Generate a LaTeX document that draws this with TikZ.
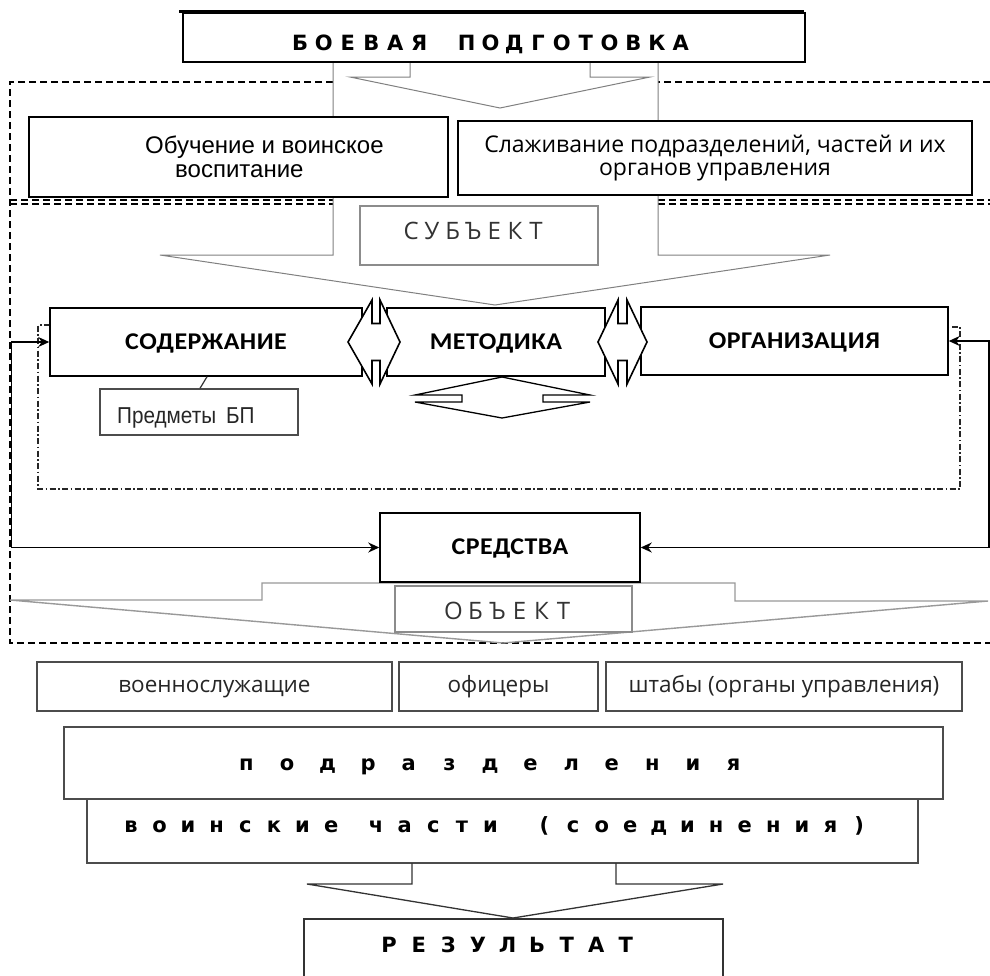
\documentclass[tikz,border=0pt]{standalone}
\usepackage{fontspec}
\setmainfont{Liberation Sans}
\newfontfamily\fLib{Liberation Sans}
\newfontfamily\fOpen{Open Sans}
\newfontfamily\fCalB[FakeStretch=1.08,LetterSpace=2]{Carlito}
\newfontfamily\fDV{DejaVu Sans}
\newfontfamily\fNar[FakeStretch=0.9]{Liberation Sans}
\usetikzlibrary{arrows.meta}
\makeatletter
\newcommand\trkw[2]{\@tfor\trk@c:=#2\do{\makebox[#1]{\trk@c}}}
\makeatother
\begin{document}
\begin{tikzpicture}[x=1pt,y=-1pt,
  box/.style={draw=black, line width=1.5pt, fill=white, inner sep=0pt},
  gbox/.style={draw=black!45, line width=1.3pt, fill=white, inner sep=0pt},
  dbox/.style={draw=black!70, line width=1.4pt, fill=white, inner sep=0pt},
  dashln/.style={line width=1.1pt, dash pattern=on 7pt off 4pt},
  ddot/.style={line width=1.1pt, draw=black!85, dash pattern=on 6pt off 2.5pt on 1.5pt off 2.5pt},
  blk/.style={draw=black!50, line width=1pt, line join=miter},
  oblk/.style={draw=black!40, line width=1.4pt, line join=miter},
  rblk/.style={draw=black!80, line width=1.3pt, line join=miter},
  dbl/.style={draw=black, line width=1.6pt, fill=white, line join=miter},
  fb/.style={line width=1.5pt, {Stealth[length=11pt,width=10pt]}-{Stealth[length=11pt,width=10pt]}},
  lbl/.style={inner sep=0pt, anchor=base},
  bigb/.style={font=\fCalB\bfseries\fontsize{24}{24}\selectfont, text height=15pt, text depth=1pt},
  opn/.style={font=\fOpen\fontsize{22.5}{22.5}\selectfont, text=black!85, text height=16pt, text depth=5pt},
]
\fill[white] (0,0) rectangle (990,975);
\useasboundingbox (0,0) rectangle (990,975);

% dashed frames
\draw[dashln] (990,82) -- (658,82);
\draw[dashln] (333,82) -- (10,82) -- (10,643) -- (990,643);
\draw[dashln] (10,200) -- (333,200);
\draw[dashln] (658,200) -- (990,200);
\draw[dashln] (10,204) -- (333,204);
\draw[dashln] (658,204) -- (990,204);

% dash-dot frame
\draw[ddot] (50,325) -- (38,325) -- (38,489) -- (960,489) -- (960,327) -- (948,327);

% block arrows at the top
\draw[blk] (333,62) -- (333,255) -- (160,255) -- (495,305) -- (830,255) -- (658,255) -- (658,62);
\draw[blk] (410,62) -- (410,77) -- (350,77) -- (500,108) -- (650,77) -- (590,77) -- (590,62);

% top box
\node[box, minimum width=622pt, minimum height=49pt] (boev) at (494,37.5) {};
\draw[line width=3pt] ([shift={(-3,-1)}]boev.north west) -- ([shift={(-2,-1)}]boev.north east);
\node[lbl, font=\fDV\bfseries\fontsize{21}{21}\selectfont] (boevt) at (490.5,50.5)
  {\trkw{23.8pt}{БОЕВАЯ}\hspace{23.8pt}\trkw{23.8pt}{ПОДГОТОВКА}};

% two boxes
\node[box, minimum width=419pt, minimum height=80pt] (obuch) at (238.5,157) {};
\node[lbl, anchor=base west, font=\fLib\fontsize{24}{24}\selectfont] (obt1) at (145,153) {Обучение и воинское};
\node[lbl, anchor=base west, font=\fLib\fontsize{24}{24}\selectfont] (obt2) at (175,177) {воспитание};

\node[box, minimum width=514pt, minimum height=74pt] (slaz) at (715,158) {};
\node[lbl, font=\fOpen\fontsize{23}{23}\selectfont] (slt1) at (715,152) {Слаживание подразделений, частей и их};
\node[lbl, font=\fOpen\fontsize{23}{23}\selectfont] (slt2) at (715,175) {органов управления};

% subject
\node[gbox, minimum width=238pt, minimum height=59pt] (subj) at (479,235.5) {};
\node[lbl, font=\fOpen\fontsize{24}{24}\selectfont, text=black!80] (subjt) at (473.5,239) {\trkw{20.8pt}{СУБЪЕКТ}};

% main row
\node[box, bigb, minimum width=312pt, minimum height=68pt] (sod) at (206,342) {СОДЕРЖАНИЕ};
\node[box, bigb, minimum width=218pt, minimum height=68pt] (met) at (496,342) {МЕТОДИКА};
\node[box, bigb, minimum width=307pt, minimum height=68pt] (org) at (794.5,341) {ОРГАНИЗАЦИЯ};

% double arrows between boxes
\draw[dbl] (348,342) -- (372,300) -- (372,323.5) -- (380,323.5) -- (380,300) -- (400,342)
  -- (380,384) -- (380,360.5) -- (372,360.5) -- (372,384) -- cycle;
\draw[dbl] (598,342) -- (618,300) -- (618,323.5) -- (627,323.5) -- (627,300) -- (647,342)
  -- (627,384) -- (627,360.5) -- (618,360.5) -- (618,384) -- cycle;
% small arrow under Методика
\draw[draw=black, line width=1.3pt, line join=miter] (502,377) -- (590,395) -- (543,395) -- (543,402) -- (590,402)
  -- (502,418) -- (415,402) -- (462,402) -- (462,395) -- (415,395) -- cycle;

% subjects of BP
\node[dbox, minimum width=198pt, minimum height=46pt] (predm) at (199,412) {};
\node[lbl, anchor=base west, font=\fNar\fontsize{23}{23}\selectfont, text=black!85] (predt) at (117,423.5) {Предметы\hspace{10pt}БП};
\draw[line width=1.2pt, black!80] ([xshift=1pt]sod.south) -- ([xshift=1pt]predm.north);

% object arrow
\draw[oblk] (262,583) -- (262,600) -- (10,600) -- (503,643) -- (988,601) -- (735,601) -- (735,583) -- cycle;

% means
\node[box, bigb, minimum width=260pt, minimum height=69pt] (sred) at (510,547.5) {СРЕДСТВА};
\draw[fb] (sod.west) -- ++(-38,0) |- (sred.west);
\draw[fb] (org.east) -- ++(40,0) |- (sred.east);

% object
\node[gbox, minimum width=237pt, minimum height=46pt] (obj) at (513.5,609) {};
\node[lbl, font=\fOpen\fontsize{24}{24}\selectfont, text=black!80] (objt) at (508.5,619.5) {\trkw{22pt}{ОБЪЕКТ}};

% bottom row
\node[dbox, opn, minimum width=355pt, minimum height=49pt] (voen) at (214.5,686.5) {военнослужащие};
\node[dbox, opn, minimum width=199pt, minimum height=49pt] (ofic) at (498.5,686.5) {офицеры};
\node[dbox, opn, minimum width=356pt, minimum height=49pt] (shtab) at (784,686.5) {штабы (органы управления)};

\node[dbox, minimum width=879pt, minimum height=72pt] (podr) at (503.5,763) {};
\node[lbl, font=\fDV\bfseries\fontsize{21}{21}\selectfont] (podrt) at (490,770) {\trkw{40.6pt}{подразделения}};
\node[dbox, minimum width=831pt, minimum height=64pt] (voin) at (502.5,831) {};
\node[lbl, font=\fDV\bfseries\fontsize{21}{21}\selectfont] (voint) at (495,832)
  {\trkw{28.6pt}{воинские}\hspace{16.4pt}\trkw{28.6pt}{части}\hspace{25.4pt}\trkw{28.6pt}{(соединения)}};

% result
\draw[rblk] (412,863) -- (412,884) -- (307,884) -- (513,918) -- (723,884) -- (616,884) -- (616,863);
\draw[line width=1.4pt, black!80] (304,990) -- (304,919) -- (723,919) -- (723,990);
\node[lbl, font=\fDV\bfseries\fontsize{21}{21}\selectfont] (rezt) at (507.5,952) {\trkw{29.6pt}{РЕЗУЛЬТАТ}};
\end{tikzpicture}
\end{document}
